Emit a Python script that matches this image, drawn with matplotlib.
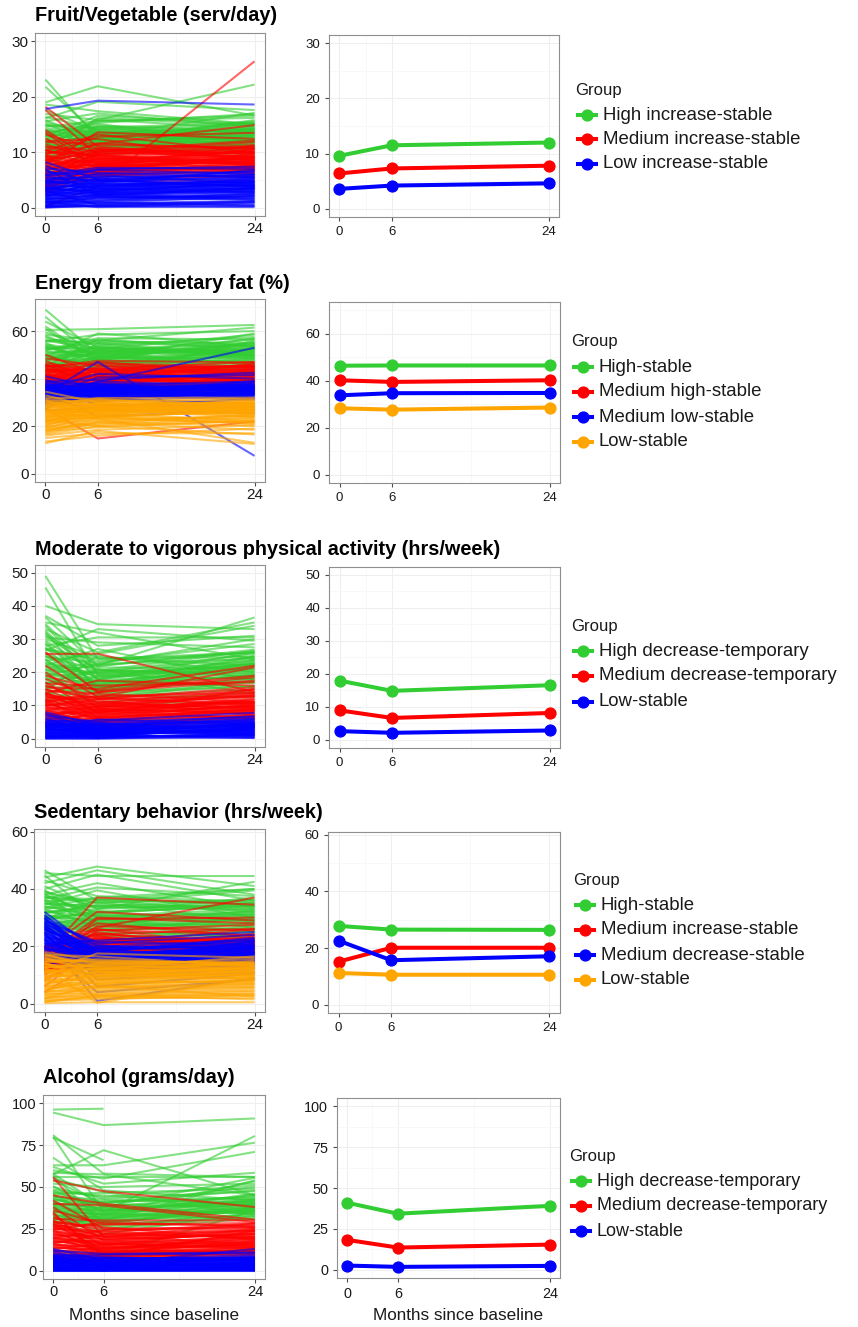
import matplotlib
matplotlib.use("Agg")
import matplotlib.pyplot as plt
from matplotlib.lines import Line2D
from matplotlib.collections import LineCollection

plt.rcParams['font.family'] = ['Liberation Sans', 'DejaVu Sans']

W, H = 858, 1327
nan = float('nan')
MONTHS = [0, 6, 24]

GREEN, RED, BLUE, ORANGE = '#32CD32', '#FF0000', '#0000FF', '#FFA500'

# ---------------- Fruit/Vegetable (serv/day) ----------------
FV_LABELS = ['High increase-stable', 'Medium increase-stable', 'Low increase-stable']
FV_MEANS = [[9.6, 11.5, 12.0], [6.4, 7.3, 7.8], [3.6, 4.2, 4.6]]
FV_HIGH = [
    (23.1, 12.4, 14.2), (21.8, 13.2, 12.1), (19.0, 21.9, 16.6), (18.6, 17.4, 15.1), (16.9, 15.8, 22.2),
    (16.1, 19.1, 17.6), (15.6, 17.0, 14.6), (15.1, 11.6, 13.1), (14.6, 15.6, 16.2), (14.1, 12.2, 15.6),
    (13.6, 14.6, 12.6), (13.1, 13.1, 14.1), (12.6, 15.1, 11.6), (12.1, 12.6, 13.6), (11.8, 14.1, 15.1),
    (11.4, 11.1, 12.1), (11.0, 13.6, 11.1), (10.7, 12.1, 14.6), (10.4, 10.6, 13.1), (10.1, 12.9, 12.1),
    (9.9, 11.6, 10.6), (9.6, 14.6, 13.6), (9.3, 10.1, 11.6), (9.0, 12.1, 12.6), (8.7, 11.1, 10.1),
    (8.4, 13.1, 14.1), (8.1, 10.6, 12.1), (7.8, 11.9, 11.1), (7.4, 9.6, 10.6), (12.8, 16.6, 15.1),
    (13.8, 11.1, 10.6), (14.8, 13.6, 12.1), (16.4, 14.1, 13.6), (11.2, 15.6, 16.6), (10.0, 13.1, 11.9),
    (7.0, 12.6, 13.1), (12.3, 10.6, 9.6), (6.5, 10.4, 11.4), (6.0, 11.2, 12.3), (5.5, 9.8, 10.8),
    (15.4, 12.9, 17.1), (13.3, 15.3, 16.9), (11.6, 9.9, 14.3), (17.6, 13.8, 12.8), (9.4, 16.2, 14.8),
    (14.3, 13.4, 14.9), (13.9, 12.7, 13.3), (13.4, 11.9, 15.8), (12.9, 14.2, 12.9), (12.4, 13.5, 14.4),
    (11.9, 12.3, 11.8), (11.5, 14.8, 13.9), (11.1, 12.0, 15.3), (10.6, 13.9, 12.4), (10.3, 11.4, 14.0),
    (9.7, 12.5, 11.3), (9.1, 13.3, 13.4), (8.6, 11.7, 12.8), (13.0, 10.2, 11.2), (14.9, 14.4, 15.4),
    (12.2, 15.9, 14.2), (10.9, 11.8, 10.9), (15.8, 12.1, 11.7), (9.9, 10.8, 13.8), (11.7, 13.0, 12.2),
]
FV_MED = [
    (18.2, 11.0, 9.1), (17.6, 9.4, 8.6), (14.0, 8.2, 10.4), (13.2, 10.6, 9.0), (12.5, 7.6, 11.2),
    (12.0, 12.4, 8.3), (11.4, 8.8, 10.0), (11.0, 10.2, 12.1), (10.5, 7.2, 9.3), (10.1, 9.5, 7.6),
    (9.7, 11.3, 10.8), (9.3, 8.1, 8.9), (9.0, 6.6, 7.4), (8.6, 9.9, 11.0), (8.3, 7.5, 6.8),
    (8.0, 10.8, 9.6), (7.7, 8.6, 8.2), (7.4, 6.3, 7.1), (7.1, 9.2, 10.2), (6.9, 7.9, 6.5),
    (6.6, 10.5, 8.7), (6.3, 7.0, 9.4), (6.0, 8.4, 7.9), (5.8, 6.0, 6.2), (5.5, 9.0, 8.5),
    (5.2, 7.3, 10.6), (5.0, 5.6, 6.9), (4.7, 8.7, 7.7), (4.4, 6.8, 9.0), (4.1, 5.1, 5.8),
    (3.8, 7.7, 8.1), (3.5, 6.1, 6.6), (3.1, 8.0, 7.2), (2.7, 5.4, 9.8), (2.3, 7.1, 6.0),
    (0.2, 3.9, 26.4), (9.5, 12.8, 13.5), (11.8, 11.5, 14.9), (7.9, 13.6, 12.4), (6.5, 4.8, 4.9),
    (5.3, 10.1, 11.8), (8.8, 5.9, 5.4), (13.6, 6.9, 7.0), (4.0, 9.6, 10.9), (10.3, 13.2, 9.9),
    (10.9, 9.1, 8.1), (10.4, 8.4, 10.1), (9.9, 10.0, 9.2), (9.4, 7.3, 8.4), (8.9, 9.6, 10.5),
    (8.5, 8.2, 7.3), (8.1, 6.8, 9.1), (7.6, 9.4, 7.9), (7.2, 7.7, 9.7), (6.8, 8.9, 8.0),
    (6.4, 6.4, 7.6), (6.1, 9.7, 9.9), (5.7, 7.1, 7.0), (5.4, 8.1, 8.8), (4.9, 6.5, 7.8),
    (4.6, 7.9, 6.3), (4.2, 6.2, 8.3), (3.9, 5.8, 7.5), (3.4, 7.4, 8.6), (2.9, 6.6, 7.3),
    (9.2, 10.4, 10.0), (7.3, 10.1, 11.3), (5.9, 8.8, 9.3), (8.4, 11.6, 10.6),
]
FV_LOW = [
    (17.8, 19.3, 18.6), (8.2, 5.1, 6.0), (7.6, 3.8, 4.9), (7.1, 6.3, 5.5), (6.7, 4.4, 6.8),
    (6.3, 5.9, 4.3), (6.0, 3.3, 5.2), (5.7, 6.8, 6.1), (5.4, 4.9, 3.9), (5.1, 2.9, 4.6),
    (4.9, 5.6, 5.9), (4.6, 4.1, 3.4), (4.4, 6.1, 6.4), (4.1, 3.6, 4.1), (3.9, 5.3, 5.0),
    (3.7, 2.6, 3.1), (3.5, 4.6, 5.6), (3.3, 3.1, 4.4), (3.1, 5.0, 3.7), (2.9, 2.3, 2.8),
    (2.7, 4.0, 4.8), (2.5, 3.4, 3.3), (2.3, 1.9, 2.5), (2.1, 3.7, 4.2), (1.9, 2.7, 3.0),
    (1.7, 1.5, 2.2), (1.5, 3.0, 3.6), (1.3, 2.1, 1.8), (1.1, 1.2, 2.6), (0.9, 2.5, 1.5),
    (0.7, 0.8, 1.2), (0.5, 1.7, 2.0), (0.3, 0.2, 0.9), (0.1, 1.0, 0.4), (5.9, 7.2, 7.0),
    (4.8, 6.9, 7.4), (3.0, 0.5, 1.0), (6.9, 2.2, 3.5), (2.0, 4.8, 6.6), (1.0, 0.1, 0.3),
    (4.7, 4.3, 4.7), (4.3, 5.2, 3.8), (3.8, 3.9, 5.3), (3.4, 4.4, 4.0), (3.0, 3.3, 3.9),
    (2.6, 4.2, 4.5), (2.2, 2.8, 3.4), (1.8, 3.5, 2.7), (1.4, 2.4, 3.3), (0.9, 1.8, 2.3),
    (0.4, 1.3, 1.7), (0.0, 0.4, 0.6), (0.2, 0.6, 1.1), (0.6, 2.0, 1.4), (1.2, 0.9, 2.1),
    (1.6, 2.2, 2.9), (2.4, 3.0, 4.1), (3.2, 3.8, 4.6), (3.6, 2.7, 3.6), (4.5, 4.8, 5.4),
    (5.3, 5.5, 5.7), (0.1, 0.3, 0.1),
]

# ---------------- Energy from dietary fat (%) ----------------
EN_LABELS = ['High-stable', 'Medium high-stable', 'Medium low-stable', 'Low-stable']
EN_MEANS = [[46.4, 46.5, 46.5], [40.2, 39.5, 40.2], [33.8, 34.7, 34.8], [28.3, 27.7, 28.6]]
EN_HIGH = [
    (69.0, 50.5, 52.0), (66.0, 48.0, 55.5), (64.0, 53.0, 50.0), (62.0, 47.5, 57.0), (60.5, 60.8, 62.6),
    (59.5, 52.0, 48.5), (58.5, 56.0, 61.5), (57.5, 49.5, 54.0), (56.5, 54.5, 49.5), (55.5, 58.5, 60.0),
    (54.5, 51.0, 56.5), (53.5, 47.0, 47.5), (52.5, 55.0, 53.5), (51.5, 49.0, 51.0), (50.5, 52.5, 58.5),
    (49.5, 46.0, 46.5), (48.5, 50.5, 52.5), (47.5, 53.5, 49.0), (46.5, 48.5, 55.0), (45.5, 45.0, 45.5),
    (44.5, 51.5, 50.5), (43.5, 47.5, 47.0), (42.5, 44.5, 53.0), (41.5, 49.5, 44.5), (40.5, 46.5, 48.0),
    (39.5, 43.0, 46.0), (38.5, 45.5, 43.5), (37.5, 42.0, 45.0), (52.0, 57.0, 56.5), (48.0, 54.0, 57.5),
    (45.0, 56.5, 52.0), (55.0, 45.5, 44.0), (50.0, 44.0, 42.5), (43.0, 52.0, 54.5), (58.0, 50.0, 46.0),
    (47.0, 42.5, 51.5), (53.0, 48.5, 59.0), (41.0, 55.0, 50.0), (61.0, 46.5, 48.0), (44.0, 41.0, 56.0),
    (49.0, 59.0, 53.5), (36.5, 40.5, 43.0),
    (56.0, 52.5, 51.5), (54.0, 50.0, 53.0), (52.8, 53.0, 50.0), (51.0, 51.5, 52.0), (50.2, 49.5, 54.5),
    (49.2, 52.0, 49.5), (48.2, 48.0, 51.0), (47.2, 50.8, 53.5), (46.2, 47.0, 50.0), (45.2, 49.0, 48.5),
    (44.2, 46.0, 52.5), (53.8, 47.8, 48.8), (55.8, 55.5, 55.0), (51.8, 56.0, 54.0), (49.8, 45.0, 47.0),
    (47.8, 51.0, 46.0), (45.8, 53.5, 51.0), (43.8, 48.5, 49.5),
]
EN_MEDHIGH = [
    (50.0, 42.0, 44.5), (48.5, 45.5, 41.0), (47.5, 39.0, 46.5), (46.5, 43.5, 42.5), (45.8, 41.0, 39.5),
    (45.0, 46.5, 45.0), (44.3, 38.5, 43.0), (43.6, 42.5, 40.5), (43.0, 40.0, 46.0), (42.4, 44.5, 38.5),
    (41.8, 37.5, 42.0), (41.2, 41.5, 44.0), (40.6, 39.5, 39.0), (40.0, 43.0, 41.5), (39.5, 36.5, 37.5),
    (39.0, 40.5, 43.5), (38.5, 38.0, 40.0), (38.0, 42.0, 36.5), (37.5, 35.5, 41.0), (37.0, 39.0, 38.5),
    (36.5, 37.0, 42.5), (36.0, 41.0, 37.0), (35.5, 34.0, 39.5), (35.0, 38.5, 35.5), (34.5, 36.0, 40.5),
    (34.0, 33.5, 36.0), (33.0, 37.5, 38.0), (44.8, 47.5, 46.8), (42.0, 35.0, 34.5), (39.8, 45.0, 44.8),
    (38.2, 32.0, 33.5), (41.0, 30.5, 37.5), (46.0, 36.5, 35.0), (36.8, 43.5, 45.5), (27.5, 14.8, 22.0),
    (43.2, 44.0, 47.0), (40.4, 47.0, 42.0),
    (45.5, 43.0, 44.0), (44.6, 40.5, 41.8), (43.8, 44.0, 43.5), (42.8, 41.5, 45.5), (42.2, 39.0, 41.0),
    (41.5, 42.8, 42.8), (40.8, 40.8, 40.0), (40.2, 38.0, 43.8), (39.2, 41.8, 39.8), (38.8, 39.5, 42.0),
    (37.8, 40.0, 39.0), (37.2, 37.8, 41.8), (36.2, 39.8, 38.2), (35.2, 36.8, 40.0), (43.4, 45.8, 44.6),
    (41.6, 37.0, 38.8), (39.4, 43.8, 45.2), (38.4, 36.0, 39.2),
]
EN_MEDLOW = [
    (41.0, 36.0, 33.5), (39.5, 33.0, 36.5), (38.5, 37.5, 35.0), (38.0, 35.0, 38.5), (37.5, 31.5, 34.0),
    (37.0, 36.5, 37.0), (36.5, 34.0, 32.5), (36.0, 38.0, 36.0), (35.5, 33.5, 39.0), (35.0, 35.5, 33.0),
    (34.6, 32.5, 35.5), (34.2, 37.0, 34.5), (33.8, 34.5, 37.5), (33.4, 36.0, 31.5), (33.0, 33.0, 36.5),
    (32.6, 35.0, 33.5), (32.2, 31.0, 35.0), (31.8, 34.0, 38.0), (31.4, 36.5, 32.0), (31.0, 32.0, 34.0),
    (30.5, 35.5, 36.0), (30.0, 30.5, 33.0), (29.5, 33.5, 31.0), (29.0, 37.0, 35.5), (28.5, 31.5, 29.5),
    (27.5, 34.5, 33.5), (26.5, 28.0, 31.5), (35.8, 42.0, 40.0), (32.8, 40.5, 41.5), (36.8, 29.0, 28.0),
    (34.0, 24.0, 27.0), (30.8, 38.5, 53.0), (33.6, 47.0, 7.5), (38.8, 39.5, 42.5), (31.2, 27.0, 25.5),
    (37.8, 34.8, 36.2), (37.2, 37.8, 34.2), (36.2, 35.2, 37.8), (35.2, 36.8, 35.8), (34.8, 33.8, 36.8),
    (34.4, 35.8, 34.8), (33.2, 34.2, 35.2), (32.4, 36.2, 36.2), (32.0, 33.2, 33.8), (31.6, 35.4, 37.2),
    (30.8, 33.6, 34.4), (30.2, 36.0, 35.0), (29.8, 32.2, 32.4), (29.2, 34.8, 33.2), (28.8, 33.0, 36.4),
    (35.4, 37.2, 38.8), (33.0, 38.8, 36.8), (36.4, 32.8, 33.6),
]
EN_LOW = [
    (34.5, 30.0, 29.5), (33.0, 27.5, 31.0), (32.0, 31.5, 27.0), (31.5, 29.0, 30.0), (31.0, 26.5, 28.5),
    (30.5, 30.5, 31.5), (30.0, 28.0, 26.5), (29.5, 31.0, 29.0), (29.0, 26.0, 30.5), (28.5, 29.5, 27.5),
    (28.0, 27.0, 29.5), (27.5, 30.0, 26.0), (27.0, 25.5, 28.0), (26.5, 28.5, 30.0), (26.0, 26.0, 27.0),
    (25.5, 29.0, 25.0), (25.0, 24.5, 28.5), (24.5, 27.5, 26.5), (24.0, 25.0, 29.0), (23.5, 28.0, 24.0),
    (23.0, 23.5, 27.0), (22.5, 26.5, 25.5), (22.0, 24.0, 23.0), (21.5, 27.0, 26.0), (21.0, 22.5, 24.5),
    (20.5, 25.5, 22.0), (20.0, 21.0, 25.0), (19.5, 23.5, 21.0), (19.0, 20.5, 23.5), (18.5, 22.0, 20.0),
    (18.0, 19.5, 22.5), (17.0, 21.5, 18.5), (16.0, 18.5, 20.5), (15.0, 17.0, 17.0), (13.5, 16.0, 19.0),
    (12.8, 18.0, 12.5), (28.8, 31.8, 32.0), (26.8, 23.0, 13.0), (22.8, 20.0, 16.5), (30.8, 24.0, 21.5),
    (29.8, 29.2, 29.8), (29.2, 27.2, 28.2), (28.2, 30.8, 30.8), (27.8, 28.2, 27.2), (27.2, 26.4, 29.2),
    (26.2, 29.8, 28.8), (25.8, 27.0, 26.0), (25.2, 28.8, 27.8), (24.8, 26.2, 29.6), (24.2, 29.4, 27.4),
    (23.8, 24.2, 26.0), (23.2, 27.8, 28.0), (22.2, 25.2, 27.2), (21.8, 28.4, 24.8), (21.2, 23.8, 26.8),
    (20.2, 26.8, 23.8), (19.2, 24.6, 25.6), (18.2, 21.8, 24.2), (17.5, 23.2, 21.5), (16.5, 20.0, 22.2),
]

# ---------------- Moderate to vigorous physical activity (hrs/week) ----------------
MV_LABELS = ['High decrease-temporary', 'Medium decrease-temporary', 'Low-stable']
MV_MEANS = [[17.9, 14.8, 16.5], [8.9, 6.6, 8.1], [2.6, 2.1, 2.8]]
MV_HIGH = [
    (49.0, 24.0, 26.0), (45.5, 19.0, 22.5), (40.0, 34.5, 33.0), (37.0, 28.0, 31.0), (36.5, 22.0, 36.5),
    (35.0, 32.0, 24.0), (34.0, 17.5, 20.5), (33.0, 26.0, 35.0), (32.0, 14.5, 18.0), (31.0, 20.5, 26.5),
    (30.0, 24.5, 22.0), (29.0, 16.0, 25.0), (28.0, 30.5, 30.5), (27.5, 13.5, 17.0), (27.0, 21.5, 21.0),
    (26.0, 18.0, 26.0), (25.0, 15.5, 19.0), (24.5, 23.0, 28.5), (24.0, 12.5, 15.0), (23.0, 19.5, 23.5),
    (22.5, 16.5, 20.0), (22.0, 27.0, 17.5), (21.0, 14.0, 22.0), (20.5, 20.0, 25.5), (20.0, 17.0, 18.5),
    (19.0, 22.5, 24.0), (18.5, 13.0, 16.0), (18.0, 18.5, 21.0), (17.0, 15.0, 19.5), (16.5, 21.0, 13.5),
    (16.0, 12.0, 17.5), (15.0, 16.5, 22.5), (14.5, 25.0, 20.0), (14.0, 11.0, 14.0), (13.0, 19.0, 18.0),
    (12.0, 14.5, 23.0), (11.0, 17.5, 15.5), (10.0, 13.0, 12.5), (30.5, 29.0, 27.5), (26.5, 33.0, 29.5),
    (23.5, 25.5, 34.0), (21.5, 22.5, 30.0), (19.5, 10.5, 11.0),
    (34.5, 20.0, 24.5), (32.5, 18.0, 22.5), (31.5, 22.0, 26.2), (29.5, 19.5, 20.5), (28.5, 15.5, 23.5),
    (27.2, 23.5, 25.8), (25.5, 17.0, 21.5), (24.8, 20.8, 18.8), (23.8, 14.8, 24.8), (22.8, 18.8, 22.8),
    (21.8, 16.0, 19.2), (20.8, 21.8, 26.8), (19.8, 15.8, 17.2), (18.8, 19.8, 21.8), (17.8, 14.2, 18.2),
    (16.8, 17.8, 23.8), (15.8, 13.8, 15.8), (15.4, 20.6, 19.6), (13.8, 15.6, 16.8), (26.8, 24.2, 24.6),
]
MV_MED = [
    (26.0, 14.0, 17.5), (25.5, 25.6, 14.0), (20.0, 9.5, 13.0), (18.0, 12.0, 10.5), (17.0, 7.5, 15.0),
    (16.0, 11.0, 9.0), (15.0, 8.0, 12.5), (14.5, 13.5, 11.0), (14.0, 6.5, 8.5), (13.5, 10.0, 14.0),
    (13.0, 9.0, 7.5), (12.5, 12.5, 10.0), (12.0, 7.0, 12.0), (11.5, 10.5, 9.5), (11.0, 5.5, 8.0),
    (10.5, 8.5, 11.5), (10.0, 11.5, 7.0), (9.5, 6.0, 10.5), (9.0, 9.5, 13.5), (8.5, 7.5, 6.5),
    (8.0, 5.0, 9.0), (7.5, 8.0, 11.0), (7.0, 10.0, 8.5), (6.5, 4.5, 6.0), (6.0, 7.0, 10.0),
    (5.5, 9.0, 7.5), (5.0, 5.5, 9.5), (4.5, 3.5, 5.5), (4.0, 6.5, 8.0), (3.5, 8.5, 6.0),
    (19.0, 14.5, 19.0), (22.0, 12.5, 21.5), (16.5, 16.0, 17.0), (13.8, 17.5, 16.0), (11.8, 3.0, 4.5),
    (9.8, 12.0, 15.5), (7.8, 2.5, 4.0), (15.5, 15.0, 22.0), (10.8, 14.0, 18.5), (8.8, 4.0, 5.0),
    (13.2, 10.8, 12.8), (12.8, 8.2, 10.8), (12.2, 11.8, 13.2), (11.2, 9.2, 11.2), (10.2, 10.2, 12.8),
    (9.8, 7.8, 9.8), (9.2, 8.8, 11.8), (8.2, 6.8, 10.2), (7.2, 8.6, 9.2), (6.8, 6.2, 8.8),
    (6.2, 9.8, 10.8), (5.8, 5.2, 7.2), (5.2, 7.8, 8.6), (4.8, 6.0, 6.8), (4.2, 5.0, 7.0),
    (3.8, 4.2, 6.6), (14.8, 12.0, 14.8), (11.4, 12.8, 13.8), (8.4, 10.8, 14.6), (7.4, 4.8, 6.2),
    (10.6, 6.4, 8.4), (13.6, 9.6, 9.6),
]
MV_LOW = [
    (8.0, 4.0, 5.5), (7.5, 2.5, 4.0), (7.0, 5.0, 6.5), (6.5, 3.5, 3.5), (6.0, 1.5, 5.0),
    (5.5, 4.5, 2.5), (5.0, 2.0, 4.5), (4.8, 3.8, 6.0), (4.5, 1.0, 3.0), (4.2, 3.0, 5.5),
    (4.0, 4.8, 2.0), (3.7, 2.2, 3.8), (3.5, 1.4, 4.8), (3.2, 3.2, 1.5), (3.0, 0.8, 3.2),
    (2.8, 2.6, 4.2), (2.5, 1.8, 2.4), (2.3, 3.6, 1.2), (2.0, 0.5, 3.6), (1.8, 2.0, 2.0),
    (1.5, 1.2, 3.0), (1.3, 2.8, 0.8), (1.0, 0.3, 1.8), (0.8, 1.6, 2.6), (0.6, 0.9, 0.5),
    (0.4, 0.2, 1.4), (0.2, 1.1, 0.2), (0.1, 0.0, 1.0), (5.2, 5.5, 7.8), (3.4, 4.2, 6.8),
    (2.6, 5.8, 4.4), (1.6, 3.9, 5.9),
    (4.9, 3.4, 4.9), (4.4, 2.7, 4.1), (3.9, 4.1, 3.5), (3.3, 2.4, 2.9), (2.9, 1.6, 3.4),
    (2.4, 3.1, 2.2), (1.9, 1.3, 2.8), (1.4, 2.3, 1.6), (0.9, 1.4, 2.2), (0.5, 0.7, 0.9),
    (0.3, 0.4, 1.2), (0.0, 0.1, 0.3), (0.7, 2.1, 1.1), (1.1, 0.8, 3.4), (2.2, 2.9, 3.9),
    (3.6, 3.5, 4.5), (4.6, 4.4, 5.2), (5.8, 2.9, 4.3),
]

# ---------------- Sedentary behavior (hrs/week) ----------------
SB_LABELS = ['High-stable', 'Medium increase-stable', 'Medium decrease-stable', 'Low-stable']
SB_MEANS = [[27.8, 26.5, 26.4], [15.2, 20.1, 20.1], [22.6, 15.7, 17.1], [11.2, 10.6, 10.6]]
SB_HIGH = [
    (46.5, 36.0, 40.0), (45.5, 44.5, 44.5), (44.0, 47.8, 41.0), (43.0, 37.5, 35.5), (42.0, 46.5, 38.0),
    (41.0, 33.0, 42.5), (40.0, 45.0, 36.0), (39.0, 35.0, 39.5), (38.0, 42.0, 33.5), (37.5, 31.5, 37.0),
    (37.0, 36.5, 34.5), (36.0, 29.0, 31.5), (35.0, 34.0, 36.0), (34.5, 39.5, 30.0), (34.0, 30.5, 33.0),
    (33.0, 35.5, 28.5), (32.5, 27.5, 32.5), (32.0, 33.0, 35.0), (31.0, 28.5, 27.0), (30.5, 31.0, 31.0),
    (30.0, 26.0, 29.5), (29.0, 32.5, 26.5), (28.5, 24.5, 30.5), (28.0, 29.5, 25.0), (27.0, 27.0, 28.0),
    (26.5, 23.5, 24.0), (26.0, 30.0, 29.0), (25.0, 25.5, 23.0), (24.5, 22.0, 27.0), (24.0, 28.0, 22.5),
    (23.0, 21.0, 25.5), (22.0, 24.0, 21.5), (21.0, 19.5, 24.5), (20.0, 22.5, 20.5), (36.5, 40.5, 37.5),
    (33.5, 37.0, 40.0), (31.5, 34.5, 34.0), (29.5, 36.0, 32.0), (27.5, 18.5, 19.5), (39.5, 28.0, 26.0),
    (44.8, 30.0, 29.0), (38.5, 24.5, 25.0),
    (39.2, 33.5, 34.2), (38.2, 30.0, 32.2), (37.2, 35.2, 36.2), (36.2, 32.0, 33.8), (35.4, 28.0, 30.8),
    (34.8, 33.8, 32.8), (33.8, 31.2, 35.2), (33.2, 27.0, 29.8), (32.2, 30.2, 31.8), (31.6, 34.2, 33.2),
    (30.8, 26.8, 28.2), (30.2, 29.2, 30.2), (29.6, 31.8, 34.2), (28.8, 25.5, 27.8), (28.2, 27.8, 31.2),
    (27.2, 30.8, 29.2), (26.2, 26.2, 26.2), (25.6, 28.8, 28.6), (24.8, 24.0, 25.8), (35.8, 36.2, 35.0),
]
SB_MEDINC = [
    (20.0, 24.0, 22.0), (19.5, 21.0, 26.0), (19.0, 28.0, 23.5), (18.5, 19.5, 19.0), (18.0, 23.0, 21.0),
    (17.5, 17.5, 24.5), (17.0, 26.0, 20.0), (16.5, 20.0, 18.0), (16.0, 22.5, 22.5), (15.5, 18.5, 20.5),
    (15.0, 25.0, 17.5), (14.5, 21.5, 23.0), (14.0, 19.0, 19.5), (13.5, 16.5, 21.5), (13.0, 23.5, 18.5),
    (12.5, 18.0, 16.5), (12.0, 20.5, 20.0), (11.5, 15.5, 18.0), (11.0, 22.0, 15.5), (10.5, 17.0, 19.0),
    (10.0, 19.5, 17.0), (9.0, 16.0, 16.0), (8.0, 18.0, 14.5), (6.0, 20.0, 17.5), (4.0, 15.0, 15.0),
    (17.2, 30.0, 28.0), (15.8, 27.0, 25.5), (14.2, 29.5, 30.0), (18.8, 32.0, 29.0), (16.8, 37.0, 34.5),
    (12.8, 25.5, 27.5), (19.8, 26.5, 37.0), (13.8, 14.0, 15.0), (11.8, 13.0, 14.0), (15.2, 21.0, 21.0),
    (18.2, 17.0, 22.5),
    (19.6, 22.5, 21.5), (19.2, 19.0, 23.2), (18.6, 24.5, 20.5), (17.8, 20.8, 22.2), (17.4, 23.5, 19.2),
    (16.6, 18.2, 21.2), (16.2, 21.8, 23.8), (15.4, 19.8, 18.8), (14.8, 22.8, 20.8), (14.4, 17.2, 19.8),
    (13.6, 20.2, 22.8), (13.2, 18.8, 17.8), (12.6, 21.2, 21.8), (12.2, 16.2, 18.2), (11.6, 19.2, 20.2),
    (10.8, 17.8, 17.6), (18.4, 25.8, 24.0), (16.4, 24.2, 26.2),
]
SB_MEDDEC = [
    (32.0, 18.5, 21.0), (31.0, 15.0, 17.5), (30.5, 20.0, 19.0), (30.0, 13.5, 22.0), (29.5, 17.0, 16.0),
    (29.0, 21.5, 20.5), (28.5, 16.0, 18.5), (28.0, 19.0, 15.0), (27.5, 14.0, 20.0), (27.0, 18.0, 23.0),
    (26.5, 12.5, 17.0), (26.0, 16.5, 19.5), (25.5, 20.5, 16.5), (25.0, 15.5, 21.5), (24.5, 17.5, 14.5),
    (24.0, 13.0, 18.0), (23.5, 19.5, 20.0), (23.0, 14.5, 16.0), (22.5, 18.0, 22.5), (22.0, 16.0, 18.0),
    (21.5, 12.0, 15.5), (21.0, 15.0, 19.0), (20.5, 17.5, 17.0), (20.0, 11.5, 14.0), (19.5, 14.0, 20.5),
    (19.0, 16.5, 15.0), (18.5, 10.5, 13.5), (18.0, 13.5, 17.5), (17.5, 15.5, 12.5), (17.0, 11.0, 16.0),
    (16.0, 13.0, 13.0), (15.0, 9.5, 12.0), (26.8, 8.5, 11.0), (24.8, 6.0, 10.5), (22.8, 1.0, 9.0),
    (20.8, 22.0, 25.0), (28.8, 21.0, 24.0), (19.8, 4.0, 8.5),
    (29.8, 16.8, 19.8), (28.2, 18.2, 17.8), (27.2, 15.2, 21.2), (26.2, 17.8, 18.2), (25.2, 14.8, 19.2),
    (24.2, 16.2, 16.8), (23.2, 18.8, 21.8), (22.2, 13.8, 17.8), (21.2, 16.8, 18.8), (20.2, 14.2, 15.8),
    (19.2, 17.2, 19.8), (18.2, 12.8, 16.2), (17.2, 15.8, 17.2), (16.5, 12.2, 14.8), (25.8, 19.2, 20.2),
    (23.8, 11.2, 13.8), (21.8, 19.8, 22.2), (27.8, 13.2, 15.2),
]
SB_LOW = [
    (18.0, 15.0, 14.0), (17.5, 12.0, 16.5), (17.0, 16.5, 13.0), (16.5, 13.5, 15.5), (16.0, 11.0, 12.0),
    (15.5, 14.5, 14.5), (15.0, 12.5, 11.0), (14.5, 15.5, 13.5), (14.0, 10.0, 15.0), (13.5, 13.0, 12.5),
    (13.0, 11.5, 10.0), (12.5, 14.0, 13.0), (12.0, 9.5, 11.5), (11.5, 12.0, 14.0), (11.0, 10.5, 9.5),
    (10.5, 13.5, 12.0), (10.0, 9.0, 10.5), (9.5, 11.0, 8.5), (9.0, 12.5, 11.0), (8.5, 8.0, 9.5),
    (8.0, 10.0, 12.5), (7.5, 7.0, 8.0), (7.0, 9.5, 10.0), (6.5, 6.0, 7.0), (6.0, 8.5, 9.0),
    (5.5, 5.5, 6.5), (5.0, 7.5, 8.0), (4.5, 4.5, 5.5), (4.0, 6.5, 7.5), (3.5, 3.5, 4.5),
    (3.0, 5.5, 6.0), (2.5, 2.5, 3.5), (2.0, 4.0, 5.0), (1.5, 2.0, 2.0), (1.0, 1.5, 3.0),
    (0.5, 3.0, 1.5), (0.2, 0.5, 0.5), (12.8, 0.3, 9.0), (10.8, 17.5, 16.0), (8.8, 2.8, 3.5),
    (3.8, 11.5, 12.5), (1.8, 6.5, 2.5),
    (16.8, 14.2, 13.8), (15.8, 12.8, 12.8), (14.8, 14.8, 14.2), (13.8, 11.8, 12.2), (12.8, 13.2, 13.6),
    (11.8, 10.8, 11.8), (10.8, 12.2, 10.8), (9.8, 9.8, 11.2), (8.8, 11.2, 9.8), (7.8, 8.8, 10.8),
    (6.8, 9.8, 8.4), (5.8, 7.2, 9.2), (4.8, 8.2, 7.2), (3.8, 5.8, 6.8), (2.8, 4.8, 5.8),
    (1.8, 3.2, 4.2), (0.8, 2.4, 2.8), (14.2, 8.2, 10.2), (11.2, 6.8, 8.2), (9.2, 14.2, 13.2),
]

# ---------------- Alcohol (grams/day) ----------------
AL_LABELS = ['High decrease-temporary', 'Medium decrease-temporary', 'Low-stable']
AL_MEANS = [[41.0, 34.3, 39.1], [18.3, 13.6, 15.4], [2.6, 1.8, 2.4]]
AL_HIGH = [
    (96.3, 96.8, nan), (94.5, 87.0, 91.0), (81.0, 58.0, 56.0), (80.0, 35.0, 80.5), (79.5, 66.0, nan),
    (57.5, 72.0, 45.0), (63.0, 63.0, 76.5), (60.0, 55.0, 71.0), (58.5, 57.5, 45.0), (58.0, 38.0, 55.5),
    (57.0, 28.0, 40.0), (56.0, 56.0, 56.0), (55.0, 47.0, 33.0), (52.0, 50.0, 52.0), (50.0, 43.0, 47.5),
    (48.0, 36.0, 43.0), (47.0, 45.0, 38.5), (45.5, 30.0, 54.0), (44.5, 39.0, 41.0), (43.5, 33.0, 36.0),
    (42.5, 41.0, 44.0), (41.5, 28.0, 38.0), (40.5, 37.0, 34.0), (39.5, 31.0, 40.5), (38.5, 35.5, 37.0),
    (37.5, 26.0, 32.5), (36.5, 33.5, 42.0), (35.5, 29.5, 35.5), (34.5, 38.0, 39.0), (33.5, 25.0, 31.0),
    (32.5, 31.5, 36.5), (31.5, 27.0, 34.0), (30.5, 34.5, 30.5), (29.5, 24.0, 37.5), (28.5, 30.0, 33.0),
    (27.5, 22.0, 35.0), (62.0, 52.0, 58.5), (54.0, 40.0, 50.0), (46.0, 46.5, 49.0), (40.0, 8.5, 36.0),
    (50.5, 34.0, 53.5), (67.5, 48.0, 42.0),
    (45.0, 38.5, 44.5), (44.0, 42.5, 40.0), (43.0, 35.5, 42.5), (42.0, 39.5, 37.5), (41.0, 33.5, 45.5),
    (40.0, 37.5, 39.5), (39.0, 41.5, 43.0), (38.0, 32.5, 35.5), (37.0, 36.0, 41.5), (36.0, 30.5, 38.5),
    (35.0, 34.0, 46.0), (34.0, 28.5, 36.5), (33.0, 32.0, 40.5), (32.0, 36.5, 34.5), (31.0, 29.0, 38.0),
    (30.0, 33.0, 42.0), (29.0, 27.5, 32.0), (28.0, 31.0, 36.0), (46.5, 40.5, 48.0), (48.5, 44.0, 51.0),
]
AL_MED = [
    (56.0, 20.0, 28.0), (54.0, 47.5, 38.0), (45.0, 40.0, 30.5), (42.0, 25.0, 26.0), (40.0, 39.0, 29.0),
    (38.0, 18.0, 22.0), (36.0, 28.0, 27.0), (34.0, 8.0, 24.0), (32.0, 22.0, 20.0), (30.0, 15.0, 25.0),
    (29.0, 26.0, 18.5), (28.0, 12.0, 21.5), (27.0, 20.5, 16.0), (26.0, 17.0, 23.0), (25.0, 23.5, 19.0),
    (24.0, 10.5, 17.5), (23.0, 19.0, 22.5), (22.0, 14.0, 14.5), (21.0, 21.0, 20.5), (20.0, 11.0, 16.5),
    (19.0, 16.5, 13.0), (18.0, 13.0, 19.5), (17.0, 18.0, 15.0), (16.0, 9.5, 12.0), (15.0, 15.0, 17.0),
    (14.0, 12.0, 11.5), (13.0, 16.0, 14.0), (12.0, 8.5, 10.5), (11.0, 13.5, 15.5), (10.0, 7.0, 9.0),
    (9.0, 11.0, 12.5), (8.0, 6.0, 8.0), (7.0, 9.0, 10.0), (6.0, 5.0, 7.0), (5.0, 7.5, 9.5),
    (31.0, 30.0, 30.0), (26.5, 27.5, 28.5), (24.5, 29.0, 26.5), (19.5, 24.0, 25.5), (35.0, 5.0, 12.0),
    (16.5, 21.5, 24.0),
    (29.5, 24.5, 26.2), (28.5, 20.0, 23.8), (27.5, 22.8, 28.2), (26.5, 18.5, 21.8), (25.5, 21.8, 24.8),
    (24.5, 16.0, 20.2), (23.5, 20.2, 23.8), (22.5, 15.2, 18.2), (21.5, 18.8, 21.8), (20.5, 13.8, 17.8),
    (19.5, 16.8, 19.8), (18.5, 12.2, 15.8), (17.5, 15.8, 18.8), (16.5, 11.2, 14.2), (15.5, 13.8, 16.8),
    (14.5, 10.2, 13.2), (13.5, 12.8, 15.2), (12.5, 9.2, 12.2), (11.5, 10.8, 13.8), (10.5, 8.2, 11.2),
    (9.5, 9.8, 11.8), (8.5, 7.8, 10.8),
]
AL_LOW = [
    (13.0, 6.0, 9.5), (11.5, 4.0, 13.0), (10.0, 8.0, 6.0), (9.0, 3.0, 8.0), (8.5, 9.5, 10.5),
    (8.0, 5.0, 4.5), (7.5, 2.5, 7.0), (7.0, 6.5, 5.5), (6.5, 1.5, 3.5), (6.0, 4.5, 8.5),
    (5.5, 3.5, 2.5), (5.0, 6.0, 6.5), (4.5, 2.0, 4.0), (4.0, 4.0, 1.5), (3.5, 1.0, 5.0),
    (3.0, 3.0, 3.0), (2.5, 0.5, 2.0), (2.0, 2.5, 4.5), (1.5, 1.5, 1.0), (1.0, 0.3, 2.5),
    (0.5, 1.0, 0.5), (0.2, 0.1, 1.5), (0.0, 0.0, 0.0), (0.8, 2.2, 0.2), (3.8, 7.5, 7.5),
    (12.0, 10.0, 11.0), (2.8, 0.2, 6.0), (1.2, 4.8, 3.2),
    (9.5, 7.0, 8.0), (8.8, 5.5, 7.5), (7.8, 7.8, 6.8), (7.2, 4.2, 6.2), (6.8, 5.8, 7.8),
    (6.2, 3.2, 5.2), (5.8, 4.8, 6.8), (5.2, 2.8, 4.8), (4.8, 4.6, 5.8), (4.2, 1.8, 3.8),
    (3.8, 3.8, 4.2), (3.2, 1.2, 2.8), (2.8, 2.8, 3.8), (2.2, 0.8, 1.8), (1.8, 1.8, 2.8),
    (1.2, 0.6, 1.2), (0.8, 0.4, 0.8), (0.4, 0.2, 0.4), (0.1, 0.0, 0.2), (0.0, 0.1, 0.0),
]

PANELS = [
    dict(title='Fruit/Vegetable (serv/day)', labels=FV_LABELS, means=FV_MEANS,
         trajs=[FV_HIGH, FV_MED, FV_LOW], colors=[GREEN, RED, BLUE],
         ylim=(-1.5, 31.5), yticks=[0, 10, 20, 30]),
    dict(title='Energy from dietary fat (%)', labels=EN_LABELS, means=EN_MEANS,
         trajs=[EN_HIGH, EN_MEDHIGH, EN_MEDLOW, EN_LOW], colors=[GREEN, RED, BLUE, ORANGE],
         ylim=(-3.5, 73.5), yticks=[0, 20, 40, 60]),
    dict(title='Moderate to vigorous physical activity (hrs/week)', labels=MV_LABELS, means=MV_MEANS,
         trajs=[MV_HIGH, MV_MED, MV_LOW], colors=[GREEN, RED, BLUE],
         ylim=(-2.5, 52.3), yticks=[0, 10, 20, 30, 40, 50]),
    dict(title='Sedentary behavior (hrs/week)', labels=SB_LABELS, means=SB_MEANS,
         trajs=[SB_HIGH, SB_MEDINC, SB_MEDDEC, SB_LOW], colors=[GREEN, RED, BLUE, ORANGE],
         ylim=(-2.9, 60.9), yticks=[0, 20, 40, 60]),
    dict(title='Alcohol (grams/day)', labels=AL_LABELS, means=AL_MEANS,
         trajs=[AL_HIGH, AL_MED, AL_LOW], colors=[GREEN, RED, BLUE],
         ylim=(-5, 105), yticks=[0, 25, 50, 75, 100]),
]

# Pixel layout of each row: left box, right box (l, t, r, b), title baseline, legend x, legend ys
LAYOUT = [
    dict(lbox=(35, 33, 265, 216), rbox=(329, 35, 559, 217), ty=21, lx=575,
         ly=[90, 115, 139, 164], lt=11, rt=9.5, lf=13.4),
    dict(lbox=(35, 299, 265, 482), rbox=(329, 302, 560, 483), ty=289, lx=571,
         ly=[342, 367, 392, 417, 442], lt=11, rt=9.5, lf=13.4),
    dict(lbox=(35, 565, 265, 747), rbox=(329, 567, 560, 748), ty=555, lx=571,
         ly=[626, 651, 676, 702], lt=11, rt=9.5, lf=13.4),
    dict(lbox=(34, 829, 265, 1012), rbox=(328, 832, 560, 1013), ty=818, lx=573,
         ly=[880, 905, 930, 955, 980], lt=11, rt=9.5, lf=13.4),
    dict(lbox=(43, 1095, 265, 1279), rbox=(337, 1098, 560, 1278), ty=1083, lx=569,
         ly=[1156, 1181, 1206, 1231], lt=10.5, rt=10.4, lf=13.0),
]

fig = plt.figure(figsize=(W / 100, H / 100), dpi=100)
fig.patch.set_facecolor('white')


def px_axes(box):
    l, t, r, b = box
    return fig.add_axes([l / W, 1 - b / H, (r - l) / W, (b - t) / H])


def style_axes(ax, p, tick_size, pad):
    ax.set_xlim(-1.2, 25.2)
    ax.set_ylim(*p['ylim'])
    ax.set_xticks(MONTHS)
    ax.set_yticks(p['yticks'])
    yt = p['yticks']
    step = yt[1] - yt[0]
    ax.set_yticks([v + step / 2 for v in yt if v + step / 2 < p['ylim'][1]], minor=True)
    ax.set_xticks([3, 15], minor=True)
    ax.grid(True, which='major', color='#EFEFEF', lw=0.8, zorder=0)
    ax.grid(True, which='minor', color='#F7F7F7', lw=0.6, zorder=0)
    ax.set_axisbelow(True)
    ax.tick_params(which='major', length=3, width=0.8, color='#4d4d4d',
                   labelsize=tick_size, labelcolor='#1a1a1a', pad=pad)
    ax.tick_params(which='minor', length=0)
    for s in ax.spines.values():
        s.set_color('#8f8f8f')
        s.set_linewidth(0.8)


for p, lay in zip(PANELS, LAYOUT):
    # individual trajectories
    axl = px_axes(lay['lbox'])
    style_axes(axl, p, lay['lt'], 1.5)
    for trajs, col in zip(p['trajs'], p['colors']):
        segs = [list(zip(MONTHS, tr)) for tr in trajs]
        axl.add_collection(LineCollection(segs, colors=col, linewidths=1.5, alpha=0.6,
                                          zorder=2))
    fig.text(lay['lbox'][0] / W, 1 - lay['ty'] / H, p['title'], fontsize=14.3,
             fontweight='bold', ha='left', va='baseline', color='black')

    # group mean trajectories
    axr = px_axes(lay['rbox'])
    style_axes(axr, p, lay['rt'], 3.5)
    for m, col in zip(p['means'], p['colors']):
        axr.plot(MONTHS, m, color=col, lw=2.9, marker='o', ms=7.8, zorder=3)

    # legend
    lx = lay['lx']
    fig.text(lx / W, 1 - lay['ly'][0] / H, 'Group', fontsize=12, ha='left', va='center',
             color='#1a1a1a')
    for y, lab, col in zip(lay['ly'][1:], p['labels'], p['colors']):
        yf = 1 - y / H
        fig.add_artist(Line2D([(lx + 3) / W, (lx + 21) / W], [yf, yf], color=col, lw=2.9,
                              transform=fig.transFigure))
        fig.add_artist(Line2D([(lx + 12) / W], [yf], color=col, marker='o', ms=7.8,
                              transform=fig.transFigure))
        fig.text((lx + 28) / W, yf, lab, fontsize=lay['lf'], ha='left', va='center',
                 color='#1a1a1a')

fig.text(154.5 / W, 1 - 1316 / H, 'Months since baseline', fontsize=12.3, ha='center',
         va='center', color='#1a1a1a')
fig.text(458 / W, 1 - 1315 / H, 'Months since baseline', fontsize=12.3, ha='center',
         va='center', color='#1a1a1a')

fig.savefig('out.png', dpi=100, facecolor='white')
